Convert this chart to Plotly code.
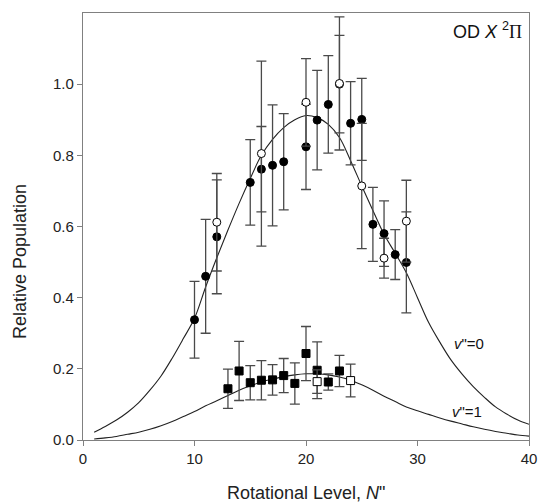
import plotly.graph_objects as go

# ---- data ----
up_fill_N = [10, 11, 12, 15, 16, 17, 18, 20, 21, 22, 23, 24, 25, 26, 27, 28, 29]
up_fill_v = [0.338, 0.460, 0.571, 0.724, 0.761, 0.772, 0.782, 0.824, 0.899, 0.943, 1.000, 0.890, 0.901, 0.606, 0.580, 0.521, 0.499]
up_fill_e = [0.108, 0.160, 0.160, 0.120, 0.120, 0.170, 0.135, 0.120, 0.140, 0.137, 0.137, 0.117, 0.115, 0.104, 0.092, 0.070, 0.142]

up_open_N = [12, 16, 20, 23, 25, 27, 29]
up_open_v = [0.612, 0.805, 0.949, 1.002, 0.714, 0.511, 0.615]
up_open_e = [0.137, 0.260, 0.123, 0.187, 0.176, 0.056, 0.115]

lo_fill_N = [13, 14, 15, 16, 17, 18, 19, 20, 21, 22, 23]
lo_fill_v = [0.144, 0.194, 0.161, 0.168, 0.169, 0.181, 0.159, 0.243, 0.196, 0.163, 0.194]
lo_fill_e = [0.055, 0.083, 0.048, 0.055, 0.043, 0.048, 0.058, 0.076, 0.080, 0.023, 0.044]

lo_open_N = [21, 24]
lo_open_v = [0.164, 0.167]
lo_open_e = [0.033, 0.046]

curve_N = list(range(1, 41))
curve0 = [0.022, 0.038, 0.056, 0.078, 0.105, 0.140, 0.180, 0.230, 0.285, 0.342,
          0.430, 0.512, 0.590, 0.665, 0.735, 0.800, 0.845, 0.878, 0.900, 0.912,
          0.906, 0.887, 0.850, 0.785, 0.714, 0.645, 0.578, 0.525, 0.470, 0.400,
          0.330, 0.275, 0.225, 0.185, 0.150, 0.120, 0.093, 0.073, 0.056, 0.044]
curve1 = [0.003, 0.006, 0.010, 0.016, 0.022, 0.030, 0.040, 0.052, 0.066, 0.080,
          0.096, 0.110, 0.125, 0.140, 0.152, 0.163, 0.171, 0.178, 0.183, 0.186,
          0.186, 0.183, 0.177, 0.168, 0.155, 0.140, 0.123, 0.108, 0.093, 0.082,
          0.072, 0.062, 0.053, 0.045, 0.037, 0.030, 0.024, 0.019, 0.014, 0.011]

x_ticks = [0, 10, 20, 30, 40]
y_ticks = [0.0, 0.2, 0.4, 0.6, 0.8, 1.0]
y_tick_text = ["0.0", "0.2", "0.4", "0.6", "0.8", "1.0"]

FONT = "Liberation Sans, Arial, sans-serif"
ERR_COLOR = "#4a4a4a"

fig = go.Figure()

for y in (curve0, curve1):
    fig.add_trace(go.Scatter(x=curve_N, y=y, mode="lines", line=dict(color="#222", width=1.1, shape="spline"),
                             showlegend=False, hoverinfo="skip"))

def pts(x, y, e, symbol, fill):
    fig.add_trace(go.Scatter(
        x=x, y=y, mode="markers",
        marker=dict(symbol=symbol, size=8, color=fill, line=dict(color="black", width=1)),
        error_y=dict(type="data", array=e, visible=True, color=ERR_COLOR, thickness=1.3, width=5),
        showlegend=False))

pts(up_fill_N, up_fill_v, up_fill_e, "circle", "black")
pts(up_open_N, up_open_v, up_open_e, "circle", "white")
pts(lo_fill_N, lo_fill_v, lo_fill_e, "square", "black")
pts(lo_open_N, lo_open_v, lo_open_e, "square", "white")

axis_common = dict(showline=True, linecolor="#808080", linewidth=1.2, mirror=True,
                   ticks="outside", ticklen=5, tickcolor="#808080", tickwidth=1.2,
                   showgrid=False, zeroline=False,
                   tickfont=dict(family=FONT, size=15, color="#222"))

fig.update_xaxes(range=[0, 40], tickvals=x_ticks, **axis_common)
fig.update_yaxes(range=[0, 1.2], tickvals=y_ticks, ticktext=y_tick_text, **axis_common)

# axis titles
fig.add_annotation(text="Rotational Level, <i>N</i>\"", xref="paper", yref="paper", x=0.5, y=-0.124,
                   yanchor="middle", showarrow=False, font=dict(family=FONT, size=18, color="#222"))
fig.add_annotation(text="Relative Population", xref="paper", yref="paper", x=-0.141, y=0.417,
                   textangle=-90, xanchor="center", yanchor="middle", showarrow=False,
                   font=dict(family=FONT, size=18, color="#222"))
# species label
fig.add_annotation(text="OD <i>X</i> <sup>2</sup><span style=\"font-family:'Liberation Serif', serif\">Π</span>",
                   xref="paper", yref="paper", x=0.988, y=0.958, xanchor="right", yanchor="middle",
                   showarrow=False, font=dict(family=FONT, size=18, color="#111"))
# curve labels
fig.add_annotation(text="<i>v</i>\"=0", x=34.6, y=0.27, showarrow=False,
                   font=dict(family=FONT, size=15, color="#111"))
fig.add_annotation(text="<i>v</i>\"=1", x=34.4, y=0.079, showarrow=False,
                   font=dict(family=FONT, size=15, color="#111"))

fig.update_layout(width=548, height=503, margin=dict(l=83, r=11, t=13, b=63),
                  plot_bgcolor="white", paper_bgcolor="white")

fig.write_html("out.html")
